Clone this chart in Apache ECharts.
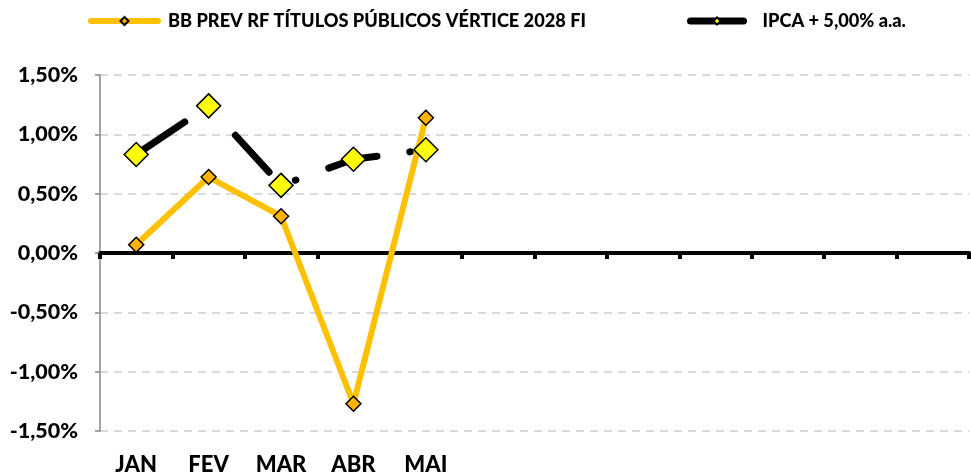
<!DOCTYPE html>
<html>
<head>
<meta charset="utf-8">
<script src="https://cdn.jsdelivr.net/npm/echarts@6/dist/echarts.min.js"></script>
<style>
  html, body { margin: 0; padding: 0; background: #fff; }
  #chart { width: 971px; height: 475px; }
</style>
</head>
<body>
<div id="chart"></div>
<script>
var meses = ['JAN', 'FEV', 'MAR', 'ABR', 'MAI', '', '', '', '', '', '', ''];
var fundo = [0.07, 0.64, 0.31, -1.27, 1.14];
var ipca = [0.83, 1.24, 0.57, 0.79, 0.87];
var nomeFundo = 'BB PREV RF TÍTULOS PÚBLICOS VÉRTICE 2028 FI';
var nomeIpca = 'IPCA + 5,00% a.a.';

var fonte = 'Lato';

var chart = echarts.init(document.getElementById('chart'));
chart.setOption({
	animation: false,
	backgroundColor: '#fff',
	legend: [
		{
			left: 88,
			top: 12,
			padding: 0,
			itemWidth: 67,
			itemHeight: 10,
			textStyle: { fontFamily: fonte, fontWeight: 900, fontSize: 18.2, color: '#000', padding: [0, 0, 0, 5] },
			data: [{ name: nomeFundo, lineStyle: { width: 6, cap: 'round' } }]
		},
		{
			left: 687,
			top: 12,
			padding: 0,
			itemWidth: 53,
			itemHeight: 9,
			textStyle: { fontFamily: fonte, fontWeight: 900, fontSize: 18.2, color: '#000', padding: [0, 0, 0, 14] },
			data: [{ name: nomeIpca, lineStyle: { type: 'solid', width: 7, cap: 'round' } }]
		}
	],
	grid: { left: 100, right: 2, top: 75, bottom: 44, outerBoundsMode: 'none', containLabel: false },
	xAxis: [
		{
			type: 'category',
			data: meses,
			boundaryGap: true,
			axisLine: { onZero: true, lineStyle: { color: '#000', width: 4 } },
			axisTick: { show: true, length: 6, lineStyle: { color: '#000', width: 4 } },
			axisLabel: { show: false },
			splitLine: { show: false }
		},
		{
			type: 'category',
			data: meses,
			position: 'bottom',
			boundaryGap: true,
			axisLine: { show: false, onZero: false },
			axisTick: { show: false },
			axisLabel: {
				interval: 0,
				margin: 23,
				fontFamily: fonte,
				fontWeight: 900,
				fontSize: 22,
				color: '#000'
			}
		}
	],
	yAxis: {
		type: 'value',
		min: -1.5,
		max: 1.5,
		interval: 0.5,
		axisLine: { show: true, lineStyle: { color: '#868686', width: 1.5 } },
		axisTick: { show: true, length: 5, lineStyle: { color: '#868686', width: 1.5 } },
		axisLabel: {
			margin: 22,
			fontFamily: fonte,
			fontWeight: 900,
			fontSize: 21.5,
			color: '#000',
			formatter: function (v) {
				return v.toFixed(2).replace('.', ',') + '%';
			}
		},
		splitLine: { lineStyle: { color: '#d9d9d9', width: 2, type: [8, 6] } }
	},
	series: [
		{
			name: nomeFundo,
			type: 'line',
			xAxisIndex: 0,
			data: fundo,
			symbol: 'diamond',
			symbolSize: 15,
			lineStyle: { color: '#FFC000', width: 6 },
			itemStyle: { color: '#FFB300', borderColor: '#000', borderWidth: 1.5 }
		},
		{
			name: nomeIpca,
			type: 'line',
			xAxisIndex: 0,
			data: ipca,
			symbol: 'diamond',
			symbolSize: 24,
			lineStyle: {
				color: '#000',
				width: 7,
				type: [50, 33, 0.5, 35],
				dashOffset: 110,
				cap: 'round'
			},
			itemStyle: { color: '#FFFF00', borderColor: '#000', borderWidth: 1.5 }
		}
	]
});
</script>
</body>
</html>
